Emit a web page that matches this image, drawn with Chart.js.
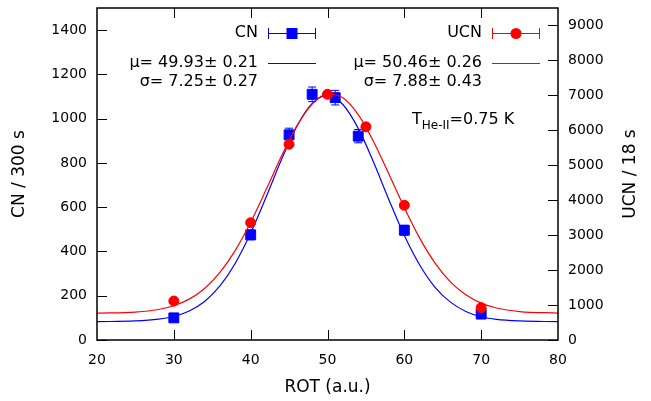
<!DOCTYPE html>
<html>
<head>
<meta charset="utf-8" />
<title>CN / UCN vs ROT</title>
<script src="https://cdn.jsdelivr.net/npm/chart.js@4"></script>
<style>
  html, body { margin: 0; padding: 0; background: #fff; }
  canvas { display: block; }
</style>
</head>
<body>
<canvas id="chart" width="651" height="401"></canvas>
<script>
// measured points (CN on left axis, UCN on right axis)
var rotCN = [30, 40, 45, 48, 51, 54, 60, 70];
var cnCounts = [100, 475, 927, 1110, 1095, 921, 496, 117];
var cnErr = [10, 22, 30, 33, 33, 30, 22, 11];

var rotUCN = [30, 40, 45, 50, 55, 60, 70];
var ucnCounts = [1115, 3355, 5600, 7030, 6100, 3855, 925];
var ucnErr = [33, 58, 75, 84, 78, 62, 30];

// gaussian fit curves
var fitX = [20, 25, 28, 30, 32, 34, 36, 38, 40, 42, 44, 46, 48, 50, 52, 54, 56, 58, 60, 62, 64, 66, 68, 70, 72, 75, 80];
var cnFit = [83, 86, 94, 106, 131, 174, 244, 347, 483, 645, 814, 965, 1069, 1105, 1064, 956, 803, 633, 472, 339, 238, 171, 129, 105, 93, 86, 83];
var ucnFit = [769, 799, 873, 981, 1169, 1475, 1933, 2566, 3370, 4297, 5258, 6120, 6749, 7039, 6931, 6447, 5674, 4743, 3786, 2915, 2202, 1664, 1293, 1055, 915, 814, 771];

// tick labels
var xTicks = [20, 30, 40, 50, 60, 70, 80];
var cnTicks = [0, 200, 400, 600, 800, 1000, 1200, 1400];
var ucnTicks = [0, 1000, 2000, 3000, 4000, 5000, 6000, 7000, 8000, 9000];

var FONT = "'DejaVu Sans', sans-serif";
var BLUE = '#0000ff', RED = '#ff0000';

function pts(xs, ys) {
  return xs.map(function (x, i) { return { x: x, y: ys[i] }; });
}
function plain(v) { return String(v); }
function noPad(s) { s.paddingTop = 0; s.paddingBottom = 0; s.paddingLeft = 0; s.paddingRight = 0; }

// vertical error bars, drawn under the markers
var errorBars = {
  id: 'errorBars',
  beforeDatasetDraw: function (chart, args) {
    var ds = chart.data.datasets[args.index];
    if (!ds.errors) return;
    var ctx = chart.ctx, ys = chart.scales[ds.yAxisID];
    ctx.save();
    ctx.strokeStyle = ds.borderColor;
    ctx.lineWidth = 1;
    args.meta.data.forEach(function (p, i) {
      var v = ds.data[i].y, e = ds.errors[i];
      var y1 = ys.getPixelForValue(v - e), y2 = ys.getPixelForValue(v + e);
      ctx.beginPath();
      ctx.moveTo(p.x, y1); ctx.lineTo(p.x, y2);
      ctx.moveTo(p.x - 4, y1); ctx.lineTo(p.x + 4, y1);
      ctx.moveTo(p.x - 4, y2); ctx.lineTo(p.x + 4, y2);
      ctx.stroke();
    });
    ctx.restore();
  }
};

// frame, inward tick marks, key and labels
var decor = {
  id: 'decor',
  afterDraw: function (chart) {
    var ctx = chart.ctx, a = chart.chartArea;
    var sx = chart.scales.x, sy = chart.scales.y, sy2 = chart.scales.y2;
    ctx.save();
    ctx.strokeStyle = '#000';
    ctx.lineWidth = 1;
    ctx.beginPath();
    xTicks.forEach(function (v) {
      if (v === 20 || v === 80) return;
      var px = Math.round(sx.getPixelForValue(v)) + 0.5;
      ctx.moveTo(px, a.bottom); ctx.lineTo(px, a.bottom - 10);
      ctx.moveTo(px, a.top); ctx.lineTo(px, a.top + 10);
    });
    cnTicks.forEach(function (v) {
      var py = Math.round(sy.getPixelForValue(v)) + 0.5;
      ctx.moveTo(a.left, py); ctx.lineTo(a.left + 10, py);
    });
    ucnTicks.forEach(function (v) {
      var py = Math.round(sy2.getPixelForValue(v)) + 0.5;
      ctx.moveTo(a.right, py); ctx.lineTo(a.right - 10, py);
    });
    ctx.stroke();

    ctx.lineWidth = 1.5;
    ctx.strokeRect(a.left, a.top, a.right - a.left, a.bottom - a.top);

    // key
    ctx.fillStyle = '#000';
    ctx.font = '16px ' + FONT;
    ctx.textAlign = 'right';
    ctx.textBaseline = 'middle';
    ctx.fillText('CN', 258, 33);
    ctx.fillText('\u03bc= 49.93\u00b1 0.21', 258, 63);
    ctx.fillText('\u03c3= 7.25\u00b1 0.27', 258, 82);
    ctx.fillText('UCN', 482, 33);
    ctx.fillText('\u03bc= 50.46\u00b1 0.26', 482, 63);
    ctx.fillText('\u03c3= 7.88\u00b1 0.43', 482, 82);

    function sample(x0, x1, y, col, marker) {
      ctx.strokeStyle = col;
      ctx.fillStyle = col;
      ctx.lineWidth = 1;
      ctx.beginPath();
      ctx.moveTo(x0, y + 0.5); ctx.lineTo(x1, y + 0.5);
      ctx.moveTo(x0 + 0.5, y - 5); ctx.lineTo(x0 + 0.5, y + 6);
      ctx.moveTo(x1 - 0.5, y - 5); ctx.lineTo(x1 - 0.5, y + 6);
      ctx.stroke();
      var cx = (x0 + x1) / 2;
      ctx.beginPath();
      if (marker === 'rect') ctx.rect(cx - 5.5, y - 5, 11, 11);
      else ctx.arc(cx, y + 0.5, 5.5, 0, Math.PI * 2);
      ctx.fill();
    }
    sample(268, 316, 33, BLUE, 'rect');
    sample(492, 540, 33, RED, 'circle');
    ctx.lineWidth = 1.2;
    ctx.strokeStyle = BLUE;
    ctx.beginPath(); ctx.moveTo(268, 63.5); ctx.lineTo(316, 63.5); ctx.stroke();
    ctx.strokeStyle = RED;
    ctx.beginPath(); ctx.moveTo(492, 63.5); ctx.lineTo(540, 63.5); ctx.stroke();

    // temperature note
    ctx.fillStyle = '#000';
    ctx.textAlign = 'left';
    ctx.textBaseline = 'alphabetic';
    ctx.font = '16px ' + FONT;
    var x = 412;
    ctx.fillText('T', x, 124);
    x += ctx.measureText('T').width;
    ctx.font = '12px ' + FONT;
    ctx.fillText('He-II', x, 129);
    x += ctx.measureText('He-II').width;
    ctx.font = '16px ' + FONT;
    ctx.fillText('=0.75 K', x, 124);

    // right axis title, reading upwards
    ctx.font = '17px ' + FONT;
    ctx.textAlign = 'center';
    ctx.textBaseline = 'middle';
    ctx.translate(631, (a.top + a.bottom) / 2);
    ctx.rotate(-Math.PI / 2);
    ctx.fillText('UCN / 18 s', 0, 0);
    ctx.restore();
  }
};

new Chart(document.getElementById('chart'), {
  type: 'scatter',
  data: {
    datasets: [
      {
        label: 'UCN',
        data: pts(rotUCN, ucnCounts),
        errors: ucnErr,
        yAxisID: 'y2',
        order: 0,
        pointStyle: 'circle',
        pointRadius: 5,
        pointBorderWidth: 1,
        backgroundColor: RED,
        borderColor: RED
      },
      {
        label: 'UCN fit',
        type: 'line',
        data: pts(fitX, ucnFit),
        yAxisID: 'y2',
        order: 1,
        borderColor: RED,
        borderWidth: 1.2,
        pointRadius: 0,
        cubicInterpolationMode: 'monotone',
        fill: false
      },
      {
        label: 'CN',
        data: pts(rotCN, cnCounts),
        errors: cnErr,
        yAxisID: 'y',
        order: 2,
        pointStyle: 'rect',
        pointRadius: 7,
        pointBorderWidth: 1,
        backgroundColor: BLUE,
        borderColor: BLUE
      },
      {
        label: 'CN fit',
        type: 'line',
        data: pts(fitX, cnFit),
        yAxisID: 'y',
        order: 3,
        borderColor: BLUE,
        borderWidth: 1.2,
        pointRadius: 0,
        cubicInterpolationMode: 'monotone',
        fill: false
      }
    ]
  },
  options: {
    responsive: false,
    animation: false,
    devicePixelRatio: 1,
    layout: { padding: { top: 7, left: 0, right: 0, bottom: 0 } },
    plugins: { legend: { display: false }, tooltip: { enabled: false } },
    scales: {
      x: {
        type: 'linear',
        position: 'bottom',
        min: 20,
        max: 80,
        afterBuildTicks: function (s) { s.ticks = xTicks.map(function (v) { return { value: v }; }); },
        afterFit: function (s) { s.height = 61; noPad(s); },
        grid: { display: false, drawTicks: false },
        border: { display: false },
        ticks: { color: '#000', padding: 12, callback: plain, font: { family: FONT, size: 14 } },
        title: { display: true, text: 'ROT (a.u.)', color: '#000', padding: { top: 0, bottom: 3 }, font: { family: FONT, size: 17 } }
      },
      y: {
        type: 'linear',
        position: 'left',
        min: 0,
        max: 1500,
        afterBuildTicks: function (s) { s.ticks = cnTicks.map(function (v) { return { value: v }; }); },
        afterFit: function (s) { s.width = 97; noPad(s); },
        grid: { display: false, drawTicks: false },
        border: { display: false },
        ticks: { color: '#000', padding: 10, callback: plain, font: { family: FONT, size: 14 } },
        title: { display: true, text: 'CN / 300 s', color: '#000', padding: { top: 9, bottom: 0 }, font: { family: FONT, size: 17 } }
      },
      y2: {
        type: 'linear',
        position: 'right',
        min: 0,
        max: 9500,
        afterBuildTicks: function (s) { s.ticks = ucnTicks.map(function (v) { return { value: v }; }); },
        afterFit: function (s) { s.width = 93; noPad(s); },
        grid: { display: false, drawTicks: false },
        border: { display: false },
        ticks: { color: '#000', padding: 10, callback: plain, font: { family: FONT, size: 14 } }
      }
    }
  },
  plugins: [errorBars, decor]
});
</script>
</body>
</html>
